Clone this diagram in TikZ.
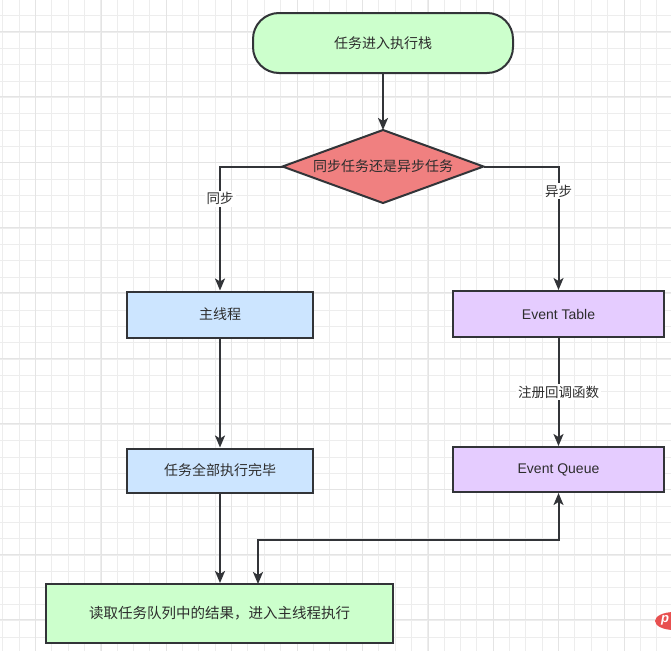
\documentclass[tikz,border=0pt]{standalone}
\usepackage{fontspec}
\setmainfont{Liberation Sans}
\newfontfamily\cjk{Noto Sans CJK SC}
\usetikzlibrary{arrows.meta}
\definecolor{strk}{RGB}{50,52,56}
\definecolor{txt}{RGB}{45,45,45}
\definecolor{gfill}{RGB}{204,255,204}
\definecolor{rfill}{RGB}{240,128,128}
\definecolor{bfill}{RGB}{204,229,255}
\definecolor{pfill}{RGB}{229,204,255}
\definecolor{minorgrid}{RGB}{237,237,237}
\definecolor{majorgrid}{RGB}{228,228,228}
\definecolor{wmred}{RGB}{232,80,80}
\tikzset{
  box/.style={draw=strk, line width=2pt, text=txt, inner sep=0pt, font=\cjk\fontsize{14}{16}\selectfont},
  latinbox/.style={box, font=\fontsize{14}{16}\selectfont},
  lbl/.style={fill=white, text=txt, inner sep=2pt, font=\cjk\fontsize{13.5}{15}\selectfont},
  conn/.style={draw=strk, line width=2pt, -{Stealth[length=12pt,width=10pt,inset=3pt]}},
  biconn/.style={draw=strk, line width=2pt, {Stealth[length=12pt,width=10pt,inset=3pt]}-{Stealth[length=12pt,width=10pt,inset=3pt]}},
  minor/.style={draw=minorgrid, line width=1pt},
  major/.style={draw=majorgrid, line width=1pt}
}
\begin{document}
\begin{tikzpicture}[x=1pt,y=-1pt]
\useasboundingbox (0,0) rectangle (671,651);
\fill[white] (0,0) rectangle (671,651);
% grid
\foreach \i in {0,...,41} {
  \draw[minor] ({2.7+16.35*\i},0) -- ({2.7+16.35*\i},651);
  \draw[minor] (0,{15.7+16.35*(\i-1)}) -- (671,{15.7+16.35*(\i-1)});
}
\foreach \i in {0,...,10} {
  \draw[major] ({35.6+65.4*\i},0) -- ({35.6+65.4*\i},651);
  \draw[major] (0,{31.3+65.4*\i}) -- (671,{31.3+65.4*\i});
}
% nodes
\node[box, fill=gfill, rounded corners=26pt, minimum width=260pt, minimum height=60pt] (top) at (383,43) {任务进入执行栈};
\node[inner sep=0pt, outer sep=0pt, minimum width=201pt, minimum height=73pt, text=txt, font=\cjk\fontsize{14}{16}\selectfont] (dia) at (383,166.5) {};
\filldraw[fill=rfill, draw=strk, line width=2pt, line join=miter] (dia.north) -- (dia.east) -- (dia.south) -- (dia.west) -- cycle;
\node[text=txt, font=\cjk\fontsize{14}{16}\selectfont] (diatext) at (dia.center) {同步任务还是异步任务};
\node[box, fill=bfill, minimum width=186pt, minimum height=46pt] (main) at (220,314.5) {主线程};
\node[box, fill=bfill, minimum width=186pt, minimum height=44pt] (done) at (220,470.5) {任务全部执行完毕};
\node[latinbox, fill=pfill, minimum width=211pt, minimum height=46pt] (et) at (558.5,314) {Event Table};
\node[latinbox, fill=pfill, minimum width=211pt, minimum height=45pt] (eq) at (558.5,469.5) {Event Queue};
\node[box, fill=gfill, minimum width=347pt, minimum height=59pt, font=\cjk\fontsize{14.5}{16}\selectfont] (bot) at (219.5,613.5) {读取任务队列中的结果，进入主线程执行};
\coordinate (botin) at (258,584);
% connectors
\draw[conn] (top) -- (dia.north);
\draw[conn] (dia.west) -| node[lbl, pos=0.63] {同步} (main.north);
\draw[conn] (dia.east) -| node[lbl, pos=0.6] {异步} (et.north);
\draw[conn] (main) -- (done);
\draw[conn] (et) -- node[lbl] {注册回调函数} (eq);
\draw[conn] (done.south) -- (done.south |- bot.north);
\draw[biconn] (eq.south) |- (258,539.5) -- (botin);
% watermark
\begin{scope}
\clip (0,0) rectangle (671,651);
\fill[wmred] (674,621) ellipse (19pt and 9pt);
\node[text=white, font=\bfseries\itshape\fontsize{13}{13}\selectfont, inner sep=0pt] (wm) at (665,620) {p};
\end{scope}
\end{tikzpicture}
\end{document}
